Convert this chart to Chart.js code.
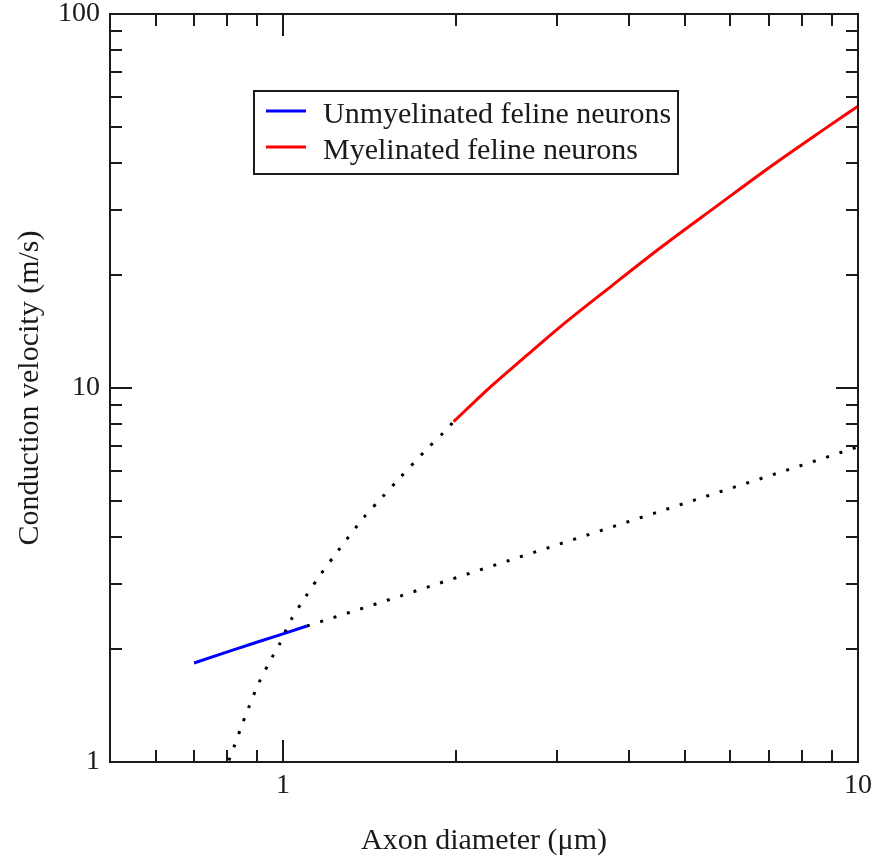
<!DOCTYPE html>
<html><head><meta charset="utf-8">
<script src="https://cdn.jsdelivr.net/npm/chart.js@4/dist/chart.umd.min.js"></script>
<style>html,body{margin:0;padding:0;background:#fff;}#wrap{width:879px;height:863px;}</style>
</head><body><div id="wrap"><canvas id="c" width="879" height="863"></canvas></div>
<script>
// ---- data ----
const unmyelDiam = [0.70, 0.80, 0.90, 1.00, 1.10];
const unmyelVel  = [1.84, 1.97, 2.09, 2.20, 2.31];
const unmyelExtDiam = [1.10, 1.5, 2, 3, 4, 5, 6, 7, 8, 9, 10];
const unmyelExtVel  = [2.31, 2.69, 3.11, 3.81, 4.40, 4.92, 5.39, 5.82, 6.22, 6.60, 6.96];
const myelDiam = [1.98, 2.30, 2.65, 3.03, 3.72, 4.58, 5.67, 7.03, 8.70, 10.0];
const myelVel  = [8.13, 10.1, 12.2, 14.55, 18.7, 24.0, 30.6, 39.0, 49.0, 56.7];
const myelExtDiam = [0.805, 0.822, 0.849, 0.870, 0.908, 0.956, 0.984, 1.031, 1.095, 1.160, 1.243, 1.379, 1.483, 1.588, 1.768, 1.908, 1.98];
const myelExtVel  = [1.01, 1.10, 1.26, 1.39, 1.63, 1.90, 2.055, 2.39, 2.77, 3.16, 3.65, 4.49, 5.08, 5.70, 6.80, 7.64, 8.13];
const xMajorTicks = [1, 10];
const xMinorTicks = [0.6, 0.7, 0.8, 0.9, 2, 3, 4, 5, 6, 7, 8, 9];
const yMajorTicks = [1, 10, 100];
const yMinorTicks = [2, 3, 4, 5, 6, 7, 8, 9, 20, 30, 40, 50, 60, 70, 80, 90];
const seriesLabels = ['Unmyelinated feline neurons', 'Myelinated feline neurons'];

const pts = (xs, ys) => xs.map((x, i) => ({x: x, y: ys[i]}));
const INK = '#1a1a1a';
Chart.defaults.font.family = '"Liberation Serif", "Times New Roman", serif';
Chart.defaults.color = INK;

const framePlugin = {
  id: 'frameTicksLegend',
  afterDraw(chart) {
    const {ctx, chartArea: {left, right, top, bottom}, scales: {x, y}} = chart;
    ctx.save();
    ctx.strokeStyle = INK;
    ctx.lineWidth = 2;
    ctx.beginPath();
    const xt = (vals, len) => vals.forEach(v => {
      const p = Math.round(x.getPixelForValue(v));
      ctx.moveTo(p, bottom); ctx.lineTo(p, bottom - len);
      ctx.moveTo(p, top); ctx.lineTo(p, top + len);
    });
    const yt = (vals, len) => vals.forEach(v => {
      const p = Math.round(y.getPixelForValue(v));
      ctx.moveTo(left, p); ctx.lineTo(left + len, p);
      ctx.moveTo(right, p); ctx.lineTo(right - len, p);
    });
    xt(xMajorTicks, 22); xt(xMinorTicks, 12);
    yt(yMajorTicks, 22); yt(yMinorTicks, 12);
    ctx.stroke();
    ctx.strokeRect(left, top, right - left, bottom - top);
    // legend box
    const bx = 254, by = 91, bw = 424, bh = 83;
    ctx.fillStyle = '#fff';
    ctx.fillRect(bx, by, bw, bh);
    ctx.strokeRect(bx, by, bw, bh);
    const items = chart.data.datasets.filter(d => d.label);
    ctx.font = '30px "Liberation Serif", "Times New Roman", serif';
    ctx.textBaseline = 'alphabetic';
    ctx.textAlign = 'left';
    items.forEach((d, i) => {
      const ly = 111 + i * 36;
      ctx.strokeStyle = d.borderColor;
      ctx.lineWidth = 3;
      ctx.beginPath(); ctx.moveTo(266, ly); ctx.lineTo(306, ly); ctx.stroke();
      ctx.fillStyle = INK;
      ctx.fillText(d.label, 323, 123 + i * 36);
    });
    ctx.restore();
  }
};

new Chart(document.getElementById('c'), {
  type: 'line',
  data: {
    datasets: [
      {label: seriesLabels[0], data: pts(unmyelDiam, unmyelVel), borderColor: '#0000ff', borderWidth: 3, pointRadius: 0, fill: false},
      {label: seriesLabels[1], data: pts(myelDiam, myelVel), borderColor: '#ff0000', borderWidth: 3, pointRadius: 0, fill: false, cubicInterpolationMode: 'monotone'},
      {label: '', data: pts(unmyelExtDiam, unmyelExtVel), borderColor: '#000', borderWidth: 3, borderDash: [3, 11], borderCapStyle: 'butt', pointRadius: 0, fill: false},
      {label: '', data: pts(myelExtDiam, myelExtVel), borderColor: '#000', borderWidth: 3, borderDash: [3, 11], borderCapStyle: 'butt', pointRadius: 0, fill: false, tension: 0.3}
    ]
  },
  options: {
    responsive: false,
    animation: false,
    devicePixelRatio: 1,
    layout: {padding: {left: 0, right: 21, top: 14, bottom: 0}},
    plugins: {legend: {display: false}, tooltip: {enabled: false}},
    scales: {
      x: {
        type: 'logarithmic', min: 0.5, max: 10,
        grid: {display: false, drawTicks: false},
        border: {display: false},
        afterBuildTicks: s => { s.ticks = xMajorTicks.map(v => ({value: v})); },
        afterFit: s => { s.height = 101; s.paddingLeft = 0; s.paddingRight = 0; },
        ticks: {font: {size: 28}, color: INK, padding: 7, maxRotation: 0, autoSkip: false, callback: v => String(v)},
        title: {display: true, text: 'Axon diameter (μm)', font: {size: 30}, color: INK, padding: {top: 0, bottom: 4}}
      },
      y: {
        type: 'logarithmic', min: 1, max: 100,
        grid: {display: false, drawTicks: false},
        border: {display: false},
        afterBuildTicks: s => { s.ticks = yMajorTicks.map(v => ({value: v})); },
        afterFit: s => { s.width = 110; s.paddingTop = 0; s.paddingBottom = 0; },
        ticks: {font: {size: 28}, color: INK, padding: 10, autoSkip: false, callback: v => String(v)},
        title: {display: true, text: 'Conduction velocity (m/s)', font: {size: 30}, color: INK, padding: {top: 12, bottom: 0}}
      }
    }
  },
  plugins: [framePlugin]
});
</script></body></html>
